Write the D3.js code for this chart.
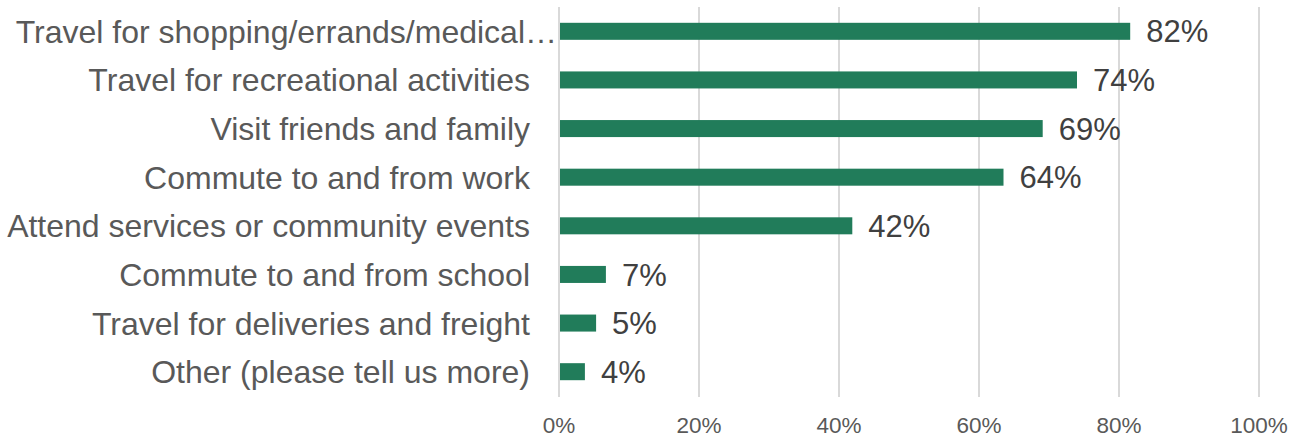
<!DOCTYPE html>
<html><head><meta charset="utf-8">
<script src="https://cdn.jsdelivr.net/npm/d3@7"></script>
<style>body{margin:0;background:#fff}svg{display:block}text{font-family:"Liberation Sans",Arial,sans-serif}</style>
</head><body>
<svg id="c" width="1300" height="437"></svg>
<script>
const categories = ["Travel for shopping/errands/medical…","Travel for recreational activities","Visit friends and family","Commute to and from work","Attend services or community events","Commute to and from school","Travel for deliveries and freight","Other (please tell us more)"];
const values = [81.6, 74.0, 69.1, 63.5, 41.9, 6.7, 5.3, 3.7];
const valueLabels = ["82%","74%","69%","64%","42%","7%","5%","4%"];
const tickValues = [0,20,40,60,80,100];
const tickLabels = ["0%","20%","40%","60%","80%","100%"];

const svg = d3.select("#c");
const x = d3.scaleLinear().domain([0,100]).range([559,1259]);
const y = d3.scaleBand().domain(categories).range([7,396]).paddingInner(0.65).paddingOuter(0.325);

svg.append("g").selectAll("line").data(tickValues).join("line")
  .attr("x1",d=>x(d)).attr("x2",d=>x(d)).attr("y1",7).attr("y2",397)
  .attr("stroke","#d9d9d9").attr("stroke-width",2);

svg.append("g").selectAll("text").data(tickValues).join("text")
  .attr("x",d=>x(d)).attr("y",433).attr("text-anchor","middle")
  .attr("font-size",22.5).attr("fill","#595959").text((d,i)=>tickLabels[i]);

svg.append("g").selectAll("rect").data(values).join("rect")
  .attr("x",x(0)+1).attr("y",(d,i)=>y(categories[i]))
  .attr("width",d=>x(d)-x(0)-1).attr("height",y.bandwidth())
  .attr("fill","#217c5a");

svg.append("g").selectAll("text").data(values).join("text")
  .attr("x",d=>x(d)+16).attr("y",(d,i)=>y(categories[i])+y.bandwidth()/2)
  .attr("dy","0.36em").attr("font-size",31).attr("fill","#404040")
  .text((d,i)=>valueLabels[i]);

svg.append("g").selectAll("text").data(categories).join("text")
  .attr("x",(d,i)=>i===0?557:530).attr("y",d=>y(d)+y.bandwidth()/2)
  .attr("dy","0.36em").attr("text-anchor","end")
  .attr("font-size",32).attr("fill","#595959").text(d=>d);
</script>
</body></html>
